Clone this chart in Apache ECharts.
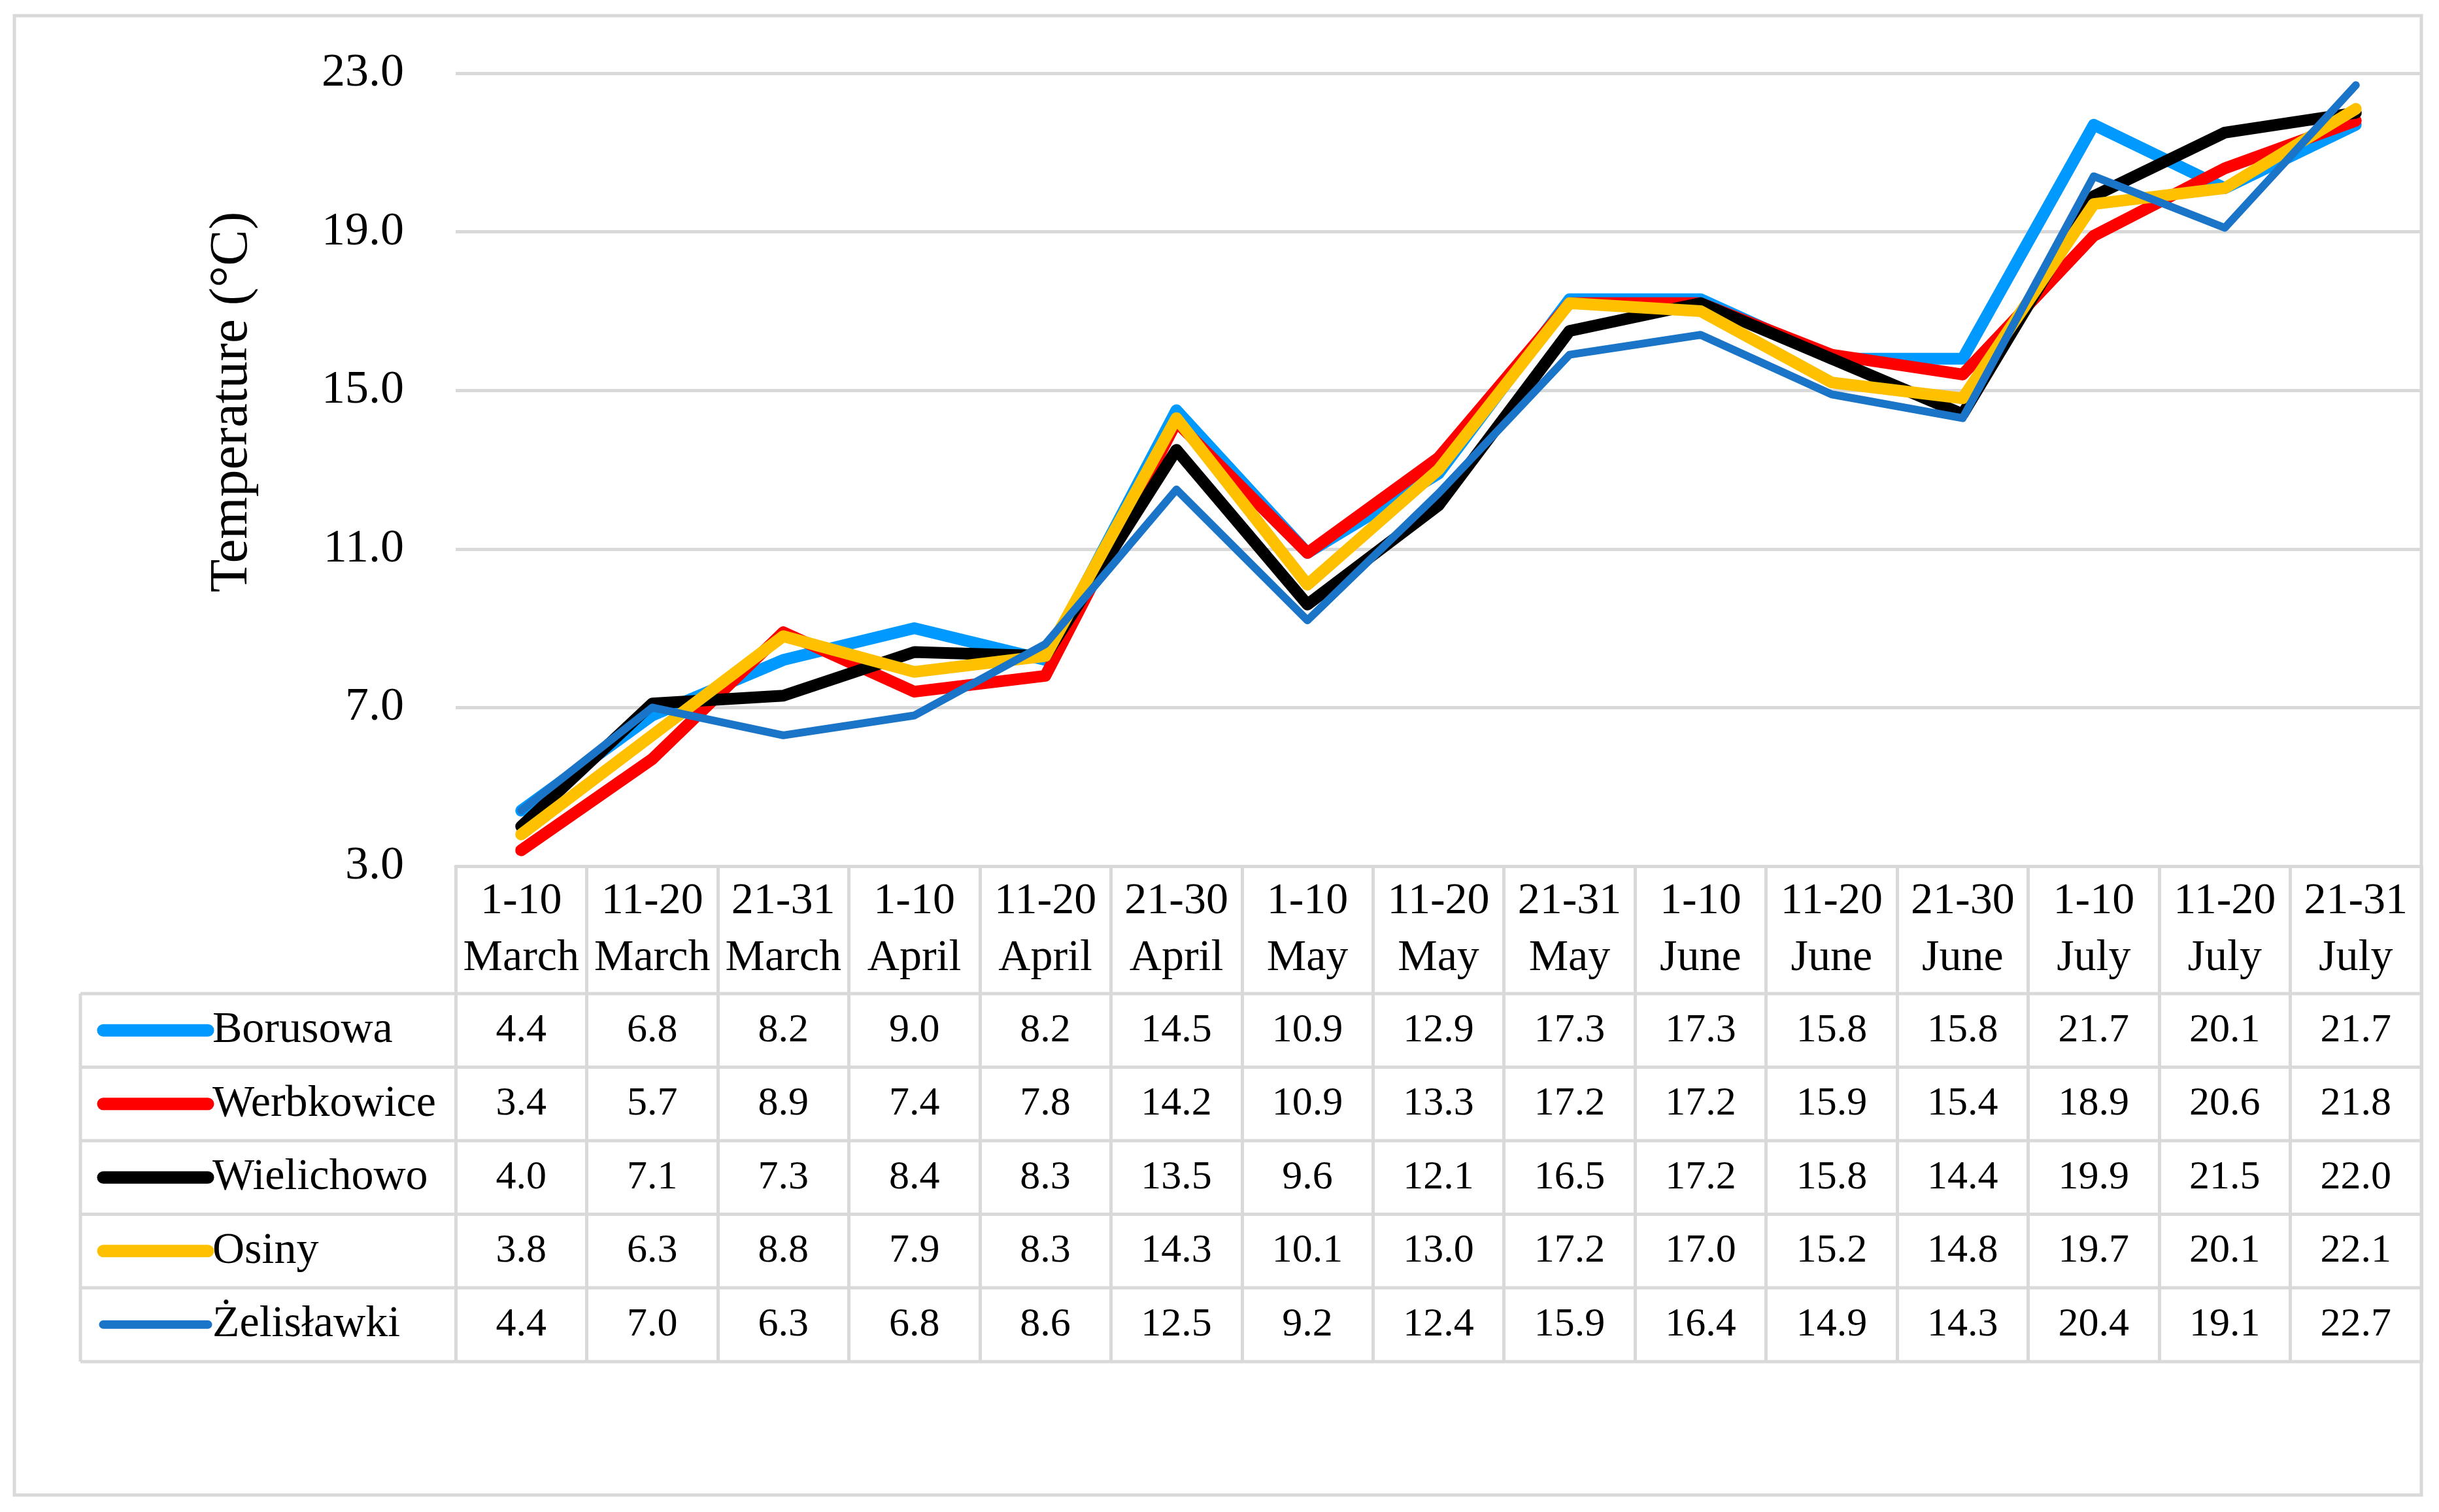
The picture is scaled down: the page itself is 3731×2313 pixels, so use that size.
<!DOCTYPE html>
<html>
<head>
<meta charset="utf-8">
<script src="https://cdn.jsdelivr.net/npm/echarts@6/dist/echarts.min.js"></script>
<style>
html,body{margin:0;padding:0;background:#fff;}
#chart{width:3731px;height:2313px;}
</style>
</head>
<body>
<div id="chart"></div>
<script>
const periods = ['1-10','11-20','21-31','1-10','11-20','21-30','1-10','11-20','21-31','1-10','11-20','21-30','1-10','11-20','21-31'];
const months = ['March','March','March','April','April','April','May','May','May','June','June','June','July','July','July'];

const seriesNames = ['Borusowa','Werbkowice','Wielichowo','Osiny','Żelisławki'];
const borusowa   = [4.4, 6.8, 8.2, 9.0, 8.2, 14.5, 10.9, 12.9, 17.3, 17.3, 15.8, 15.8, 21.7, 20.1, 21.7];
const werbkowice = [3.4, 5.7, 8.9, 7.4, 7.8, 14.2, 10.9, 13.3, 17.2, 17.2, 15.9, 15.4, 18.9, 20.6, 21.8];
const wielichowo = [4.0, 7.1, 7.3, 8.4, 8.3, 13.5, 9.6, 12.1, 16.5, 17.2, 15.8, 14.4, 19.9, 21.5, 22.0];
const osiny      = [3.8, 6.3, 8.8, 7.9, 8.3, 14.3, 10.1, 13.0, 17.2, 17.0, 15.2, 14.8, 19.7, 20.1, 22.1];
const zelislawki = [4.4, 7.0, 6.3, 6.8, 8.6, 12.5, 9.2, 12.4, 15.9, 16.4, 14.9, 14.3, 20.4, 19.1, 22.7];
const yTicks = [3, 7, 11, 15, 19, 23];

const allValues = [borusowa, werbkowice, wielichowo, osiny, zelislawki];
const colors = ['#0099FF', '#FF0000', '#000000', '#FFC000', '#1A74C8'];
const widths = [18, 18, 18, 18, 12];
const legendWidths = [19, 19, 19, 19, 13];

const categories = periods.map((p, i) => p + '\n' + months[i]);

const FONT = 'Liberation Serif';
const GRID_TOP = 112, GRID_BOTTOM_Y = 1325, GRID_LEFT = 697, GRID_RIGHT_X = 3704;
const TABLE_LEFT = 123;
const ROW_LINES = [1520, 1632.5, 1745, 1857.5, 1970, 2083];
const rowCenters = ROW_LINES.slice(0, 5).map((y, i) => (y + ROW_LINES[i + 1]) / 2);
const GRAY = '#D9D9D9';

const chart = echarts.init(document.getElementById('chart'), null, {renderer: 'canvas'});

const xAxes = [{
  type: 'category',
  data: categories,
  gridIndex: 0,
  position: 'bottom',
  boundaryGap: true,
  axisLine: {show: true, lineStyle: {color: GRAY, width: 5}},
  axisTick: {show: true, interval: 0, length: ROW_LINES[5] - GRID_BOTTOM_Y, lineStyle: {color: GRAY, width: 5}},
  axisLabel: {
    interval: 0, color: '#000', fontFamily: FONT, fontSize: 68, lineHeight: 87,
    verticalAlign: 'middle', margin: 1422.5 - GRID_BOTTOM_Y
  },
  splitLine: {show: false}
}];
allValues.forEach((vals, si) => {
  xAxes.push({
    type: 'category',
    data: categories,
    gridIndex: 0,
    position: 'bottom',
    boundaryGap: true,
    axisLine: {show: false},
    axisTick: {show: false},
    splitLine: {show: false},
    axisLabel: {
      interval: 0, color: '#000', fontFamily: FONT, fontSize: 62, lineHeight: 62,
      verticalAlign: 'middle', margin: rowCenters[si] - GRID_BOTTOM_Y,
      formatter: (v, idx) => vals[idx].toFixed(1)
    }
  });
});

const option = {
  backgroundColor: '#fff',
  animation: false,
  grid: {left: GRID_LEFT, right: 3731 - GRID_RIGHT_X, top: GRID_TOP, bottom: 2313 - GRID_BOTTOM_Y, containLabel: false},
  xAxis: xAxes,
  yAxis: {
    type: 'value',
    min: yTicks[0], max: yTicks[yTicks.length - 1], interval: 4,
    axisLine: {show: false},
    axisTick: {show: false},
    axisLabel: {color: '#000', fontFamily: FONT, fontSize: 72, margin: 79, formatter: v => v.toFixed(1)},
    splitLine: {show: true, lineStyle: {color: GRAY, width: 5}},
    name: 'Temperature (°C)',
    nameLocation: 'middle',
    nameRotate: 90,
    nameGap: 300,
    nameTextStyle: {color: '#000', fontFamily: FONT, fontSize: 83, padding: [0, 0, 0, 207]}
  },
  legend: {
    orient: 'vertical',
    left: 148.5,
    top: rowCenters[0] - 34,
    padding: 0,
    itemWidth: 160,
    itemHeight: 20,
    itemGap: 112.5 - 68,
    selectedMode: false,
    itemStyle: {opacity: 0},
    textStyle: {color: '#000', fontFamily: FONT, fontSize: 68, lineHeight: 68, padding: [0, 0, 0, 2]},
    data: seriesNames.map((n, i) => ({
      name: n,
      itemStyle: {opacity: 0},
      lineStyle: {color: colors[i], width: legendWidths[i], cap: 'round', opacity: 1}
    }))
  },
  series: seriesNames.map((n, i) => ({
    name: n,
    type: 'line',
    xAxisIndex: 0,
    yAxisIndex: 0,
    data: allValues[i],
    symbol: 'none',
    smooth: false,
    color: colors[i],
    lineStyle: {color: colors[i], width: widths[i], cap: 'round', join: 'round'},
    emphasis: {disabled: true}
  })),
  graphic: [
    {type: 'rect', shape: {x: 22, y: 24, width: GRID_RIGHT_X - 22, height: 2287 - 24}, style: {fill: 'none', stroke: GRAY, lineWidth: 5}, z: 0, silent: true},
    ...ROW_LINES.map(y => ({type: 'line', shape: {x1: TABLE_LEFT, y1: y, x2: GRID_RIGHT_X, y2: y}, style: {stroke: GRAY, lineWidth: 5}, silent: true})),
    {type: 'line', shape: {x1: TABLE_LEFT, y1: ROW_LINES[0], x2: TABLE_LEFT, y2: ROW_LINES[5]}, style: {stroke: GRAY, lineWidth: 5}, silent: true}
  ]
};
chart.setOption(option);
</script>
</body>
</html>
